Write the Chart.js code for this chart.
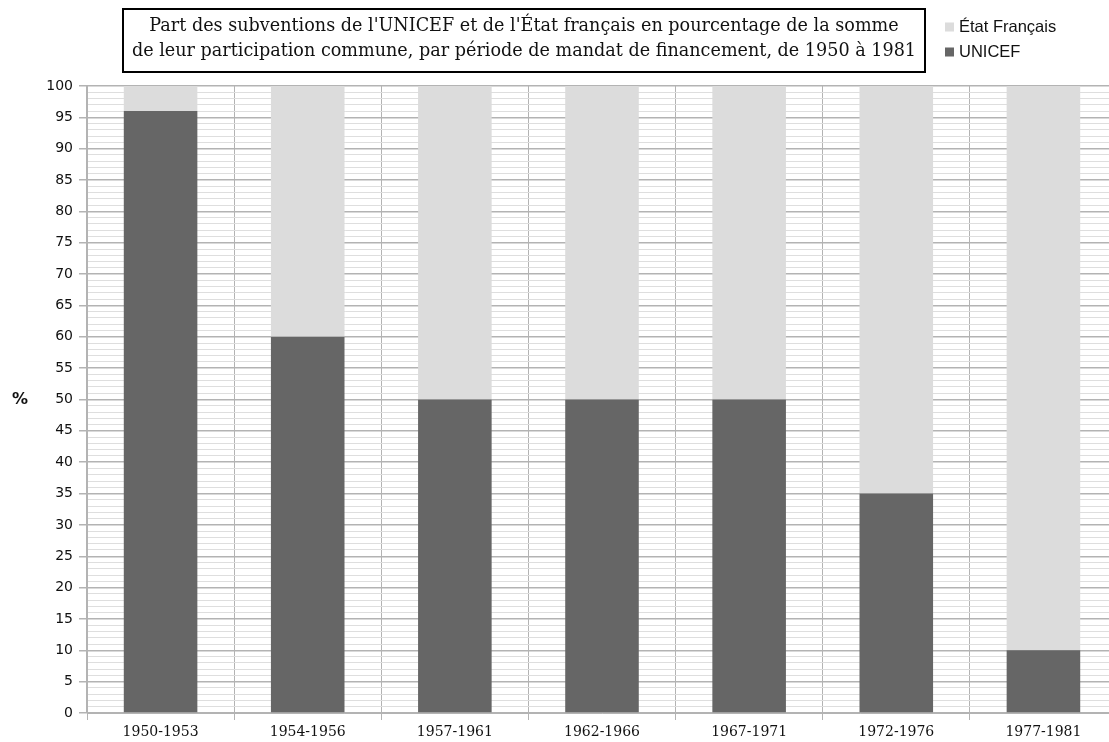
<!DOCTYPE html>
<html lang="fr">
<head>
<meta charset="utf-8">
<title>Part des subventions UNICEF / État français</title>
<script src="https://cdn.jsdelivr.net/npm/chart.js"></script>
<style>
    html, body { margin: 0; padding: 0; background: #fff; overflow: hidden; }
    #chart { display: block; }
</style>
</head>
<body>
<canvas id="chart" width="1120" height="742"></canvas>
<script>
// Chart data
const periods = ['1950-1953', '1954-1956', '1957-1961', '1962-1966', '1967-1971', '1972-1976', '1977-1981'];
const unicefShare = [96, 60, 50, 50, 50, 35, 10];
const etatShare = [4, 40, 50, 50, 50, 65, 90];
const titleLines = [
    "Part des subventions de l'UNICEF et de l'État français en pourcentage de la somme",
    "de leur participation commune, par période de mandat de financement, de 1950 à 1981"
];
const legendItems = [
    { label: 'État Français', color: '#dcdcdc' },
    { label: 'UNICEF', color: '#666666' }
];

const majorGrid = '#b3b3b3';
const minorGrid = '#dedede';

// Title box, legend and the "%" axis label
const decorations = {
    id: 'decorations',
    afterDraw(chart) {
        const ctx = chart.ctx;
        ctx.save();

        ctx.strokeStyle = '#000';
        ctx.lineWidth = 2;
        ctx.strokeRect(123, 9, 802, 63);
        ctx.fillStyle = '#111';
        ctx.font = '17.6px "DejaVu Serif"';
        ctx.textAlign = 'center';
        ctx.textBaseline = 'middle';
        ctx.fillText(titleLines[0], 524, 26);
        ctx.fillText(titleLines[1], 524, 51);

        ctx.font = '16.5px "Liberation Sans"';
        ctx.textAlign = 'left';
        legendItems.forEach((item, i) => {
            const y = 27 + i * 25;
            ctx.fillStyle = item.color;
            ctx.fillRect(945, y - 4.5, 9, 9);
            ctx.fillStyle = '#111';
            ctx.fillText(item.label, 959, y);
        });

        ctx.font = 'bold 16px "DejaVu Sans"';
        ctx.textAlign = 'center';
        ctx.fillText('%', 20, 400);
        ctx.restore();
    }
};

new Chart(document.getElementById('chart'), {
    type: 'bar',
    data: {
        labels: periods,
        datasets: [
            { label: 'UNICEF', data: unicefShare, backgroundColor: '#666666' },
            { label: 'État Français', data: etatShare, backgroundColor: '#dcdcdc' }
        ]
    },
    options: {
        responsive: false,
        animation: false,
        devicePixelRatio: 1,
        categoryPercentage: 1,
        barPercentage: 0.5,
        layout: { padding: { top: 86, right: 3, left: 0, bottom: 0 } },
        plugins: {
            legend: { display: false },
            title: { display: false },
            tooltip: { enabled: false }
        },
        scales: {
            x: {
                stacked: true,
                afterFit: (scale) => { scale.height = 29; },
                grid: {
                    offset: true,
                    color: majorGrid,
                    lineWidth: 1,
                    tickLength: 7
                },
                border: { color: majorGrid, width: 1 },
                ticks: {
                    padding: 4,
                    color: '#111',
                    font: { family: '"DejaVu Serif"', size: 14 }
                }
            },
            y: {
                stacked: true,
                min: 0,
                max: 100,
                afterFit: (scale) => { scale.width = 87; },
                grid: {
                    color: (c) => (c.tick && c.tick.value % 5 === 0) ? majorGrid : minorGrid,
                    tickColor: (c) => (c.tick && c.tick.value % 5 === 0) ? majorGrid : 'rgba(0,0,0,0)',
                    lineWidth: (c) => (c.tick && c.tick.value % 5 === 0) ? 1.5 : 1,
                    tickLength: 8
                },
                border: { color: majorGrid, width: 2 },
                ticks: {
                    stepSize: 1,
                    autoSkip: false,
                    padding: 6,
                    color: '#111',
                    font: { family: '"DejaVu Sans"', size: 14 },
                    callback: (v) => (v % 5 === 0 ? v : '')
                }
            }
        }
    },
    plugins: [decorations]
});
</script>
</body>
</html>
